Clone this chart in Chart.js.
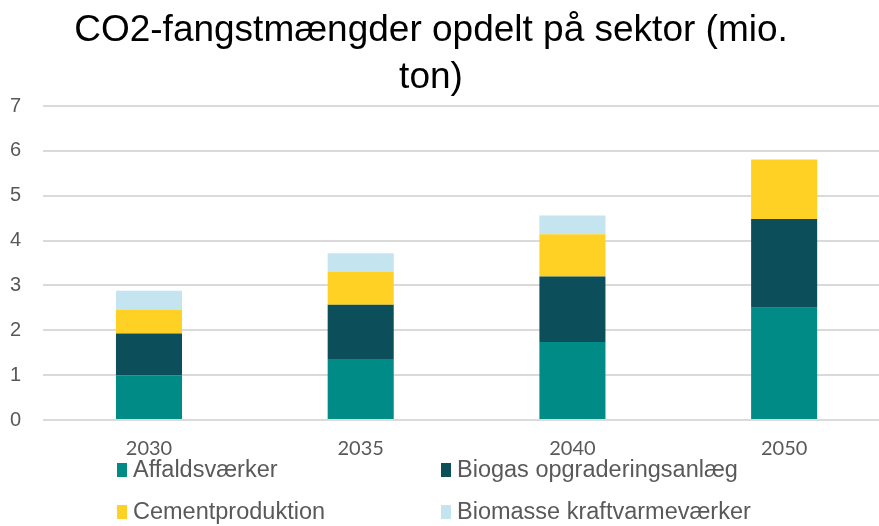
<!DOCTYPE html>
<html>
<head>
<meta charset="utf-8">
<script src="https://cdn.jsdelivr.net/npm/chart.js@4"></script>
<style>
  html, body { margin: 0; padding: 0; background: #fff; overflow: hidden; }
  #wrap { width: 902px; height: 526px; margin-left: -12px; }
</style>
</head>
<body>
<div id="wrap"><canvas id="barChart"></canvas></div>
<script>
// data (mio. ton)
var years = ['2030', '2035', '2040', '2050'];
var affald = [1.0, 1.36, 1.74, 2.5];
var biogas = [0.93, 1.21, 1.46, 1.98];
var cement = [0.52, 0.73, 0.94, 1.33];
var biomasse = [0.43, 0.42, 0.42, 0];
var seriesNames = ['Affaldsværker', 'Biogas opgraderingsanlæg', 'Cementproduktion', 'Biomasse kraftvarmeværker'];
var seriesColors = ['#008B87', '#0C4F5A', '#FFD124', '#C4E4F0'];
var titleLines = ['CO2-fangstmængder opdelt på sektor (mio.', 'ton)'];

var OX = 12; // canvas is shifted left by this much

// title and 2x2 legend drawn by hand
var extras = {
    id: 'extras',
    afterDraw: function(chart) {
        var ctx = chart.ctx;
        ctx.save();
        // title
        ctx.font = '37px "Liberation Sans", Arial, sans-serif';
        ctx.fillStyle = '#000';
        ctx.textAlign = 'center';
        ctx.textBaseline = 'alphabetic';
        ctx.fillText(titleLines[0], 431 + OX, 41);
        ctx.fillText(titleLines[1], 431 + OX, 88);

        // legend
        var cols = [117, 441];
        var rows = [470, 512];
        ctx.textAlign = 'left';
        ctx.textBaseline = 'middle';
        ctx.font = '23.5px "Liberation Sans", Arial, sans-serif';
        chart.data.datasets.forEach(function(ds, i) {
            var x = cols[i % 2] + OX;
            var y = rows[Math.floor(i / 2)];
            ctx.fillStyle = ds.backgroundColor;
            ctx.fillRect(x, y - 7, 10, 14);
            ctx.fillStyle = '#595959';
            ctx.fillText(ds.label, x + 16, y + 1);
        });
        ctx.restore();
    }
};

function makeSet(i, data) {
    return {
        label: seriesNames[i],
        data: data,
        backgroundColor: seriesColors[i],
        borderWidth: 0,
        categoryPercentage: 1,
        barPercentage: 0.312
    };
}

var ctx = document.getElementById('barChart').getContext('2d');
var chart = new Chart(ctx, {
    type: 'bar',
    data: {
        labels: years,
        datasets: [
            makeSet(0, affald),
            makeSet(1, biogas),
            makeSet(2, cement),
            makeSet(3, biomasse)
        ]
    },
    plugins: [extras],
    options: {
        responsive: true,
        maintainAspectRatio: false,
        animation: false,
        layout: {
            padding: { left: 0, right: 0, top: 106, bottom: 56 }
        },
        plugins: {
            legend: { display: false },
            tooltip: { enabled: false },
            title: { display: false }
        },
        scales: {
            x: {
                stacked: true,
                grid: { display: false },
                border: { display: false },
                ticks: {
                    color: '#595959',
                    font: { family: 'Lato, "Open Sans", sans-serif', size: 20 },
                    padding: 9
                }
            },
            y: {
                stacked: true,
                min: 0,
                max: 7,
                border: { display: false },
                grid: { color: '#DADADA', lineWidth: 2, drawTicks: false },
                ticks: {
                    stepSize: 1,
                    color: '#595959',
                    font: { family: '"Liberation Sans", Arial, sans-serif', size: 20 },
                    padding: 22
                }
            }
        }
    }
});
</script>
</body>
</html>
